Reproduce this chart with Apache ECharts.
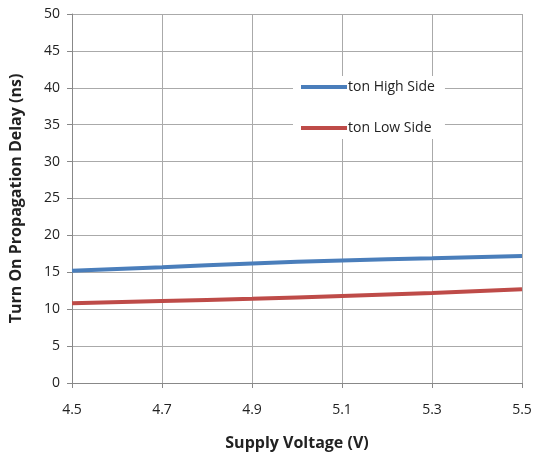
<!DOCTYPE html>
<html><head><meta charset="utf-8">
<script src="https://cdn.jsdelivr.net/npm/echarts@6/dist/echarts.min.js"></script>
<style>html,body{margin:0;padding:0;background:#fff}#c{width:536px;height:458px}</style>
</head><body><div id="c"></div>
<script>
const voltages = ['4.5','4.7','4.9','5.1','5.3','5.5'];
const highSide = [15.2, 15.7, 16.2, 16.6, 16.9, 17.2];
const lowSide = [10.8, 11.1, 11.4, 11.8, 12.2, 12.7];
const seriesNames = ['ton High Side', 'ton Low Side'];
const font = 'Open Sans';
const chart = echarts.init(document.getElementById('c'));
chart.setOption({
  animation: false,
  textStyle: {fontFamily: font},
  grid: {left: 71, right: 14, top: 14, bottom: 75},
  legend: {
    orient: 'vertical', left: 293, top: 76, itemGap: 27,
    itemWidth: 46, itemHeight: 4, backgroundColor: '#fff', padding: [4, 10, 4, 8],
    icon: 'rect',
    textStyle: {fontFamily: font, fontSize: 14, color: '#222', padding: [0, 0, 0, -4]},
    data: seriesNames
  },
  xAxis: {
    type: 'category', data: voltages, boundaryGap: false,
    name: 'Supply Voltage (V)', nameLocation: 'middle', nameGap: 52,
    nameTextStyle: {fontWeight: 'bold', fontSize: 16, color: '#222'},
    axisLine: {lineStyle: {color: '#888'}},
    axisTick: {show: true, length: 5, lineStyle: {color: '#888'}},
    axisLabel: {color: '#222', fontSize: 14, margin: 20},
    splitLine: {show: true, lineStyle: {color: '#aaa'}}
  },
  yAxis: {
    type: 'value', min: 0, max: 50, interval: 5,
    name: 'Turn On Propagation Delay (ns)', nameLocation: 'middle', nameGap: 48,
    nameTextStyle: {fontWeight: 'bold', fontSize: 16, color: '#222'},
    axisLine: {show: true, lineStyle: {color: '#888'}},
    axisTick: {show: true, length: 5, lineStyle: {color: '#888'}},
    axisLabel: {color: '#222', fontSize: 14, margin: 12},
    splitLine: {show: true, lineStyle: {color: '#aaa'}}
  },
  series: [
    {name: seriesNames[0], type: 'line', data: highSide, symbol: 'none', smooth: true,
     lineStyle: {width: 4, color: '#4A7EBB'}, itemStyle: {color: '#4A7EBB'}},
    {name: seriesNames[1], type: 'line', data: lowSide, symbol: 'none', smooth: true,
     lineStyle: {width: 4, color: '#BE4B48'}, itemStyle: {color: '#BE4B48'}}
  ]
});
</script></body></html>
